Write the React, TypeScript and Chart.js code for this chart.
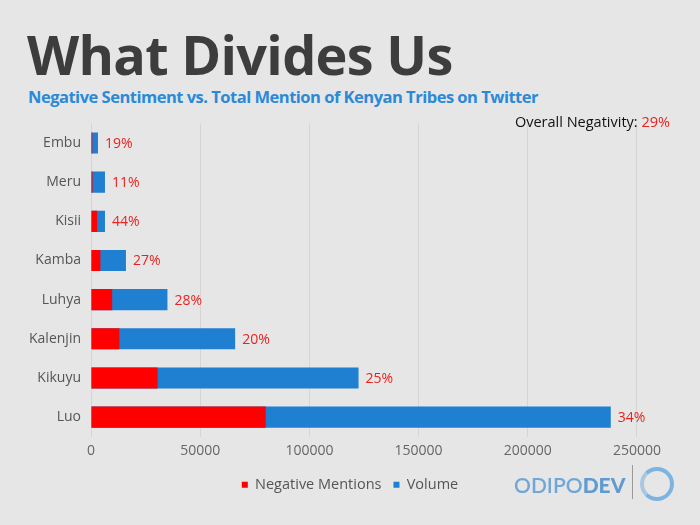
import React, { useEffect, useRef } from "react";
import { Chart, registerables } from "chart.js";

Chart.register(...registerables);

const tribes = ["Embu", "Meru", "Kisii", "Kamba", "Luhya", "Kalenjin", "Kikuyu", "Luo"];
const negativeMentions = [600, 700, 2800, 4300, 9700, 13000, 30500, 80000];
const totalVolume = [3200, 6400, 6400, 16000, 35000, 66000, 122500, 238000];
const negativityLabels = ["19%", "11%", "44%", "27%", "28%", "20%", "25%", "34%"];
const xTicks = [0, 50000, 100000, 150000, 200000, 250000];
const overallNegativity = "29%";

const BG = "#e7e6e6";
const RED = "#ff0000";
const BLUE = "#1f7fd1";
const FONT = "'Open Sans', 'Noto Sans', sans-serif";

const labelPlugin = {
  id: "pctLabels",
  afterDatasetsDraw(chart: any) {
    const meta = chart.getDatasetMeta(1);
    const ctx = chart.ctx;
    ctx.save();
    ctx.font = `14px ${FONT}`;
    ctx.fillStyle = "#e8231f";
    ctx.textBaseline = "middle";
    ctx.textAlign = "left";
    meta.data.forEach((el: any, i: number) => {
      ctx.fillText(negativityLabels[i], el.x + 7, el.y + 1);
    });
    ctx.restore();
  },
};

export default function App() {
  const ref = useRef<HTMLCanvasElement>(null);
  useEffect(() => {
    document.body.style.margin = "0";
    const chart = new Chart(ref.current!, {
      type: "bar",
      data: {
        labels: tribes,
        datasets: [
          {
            label: "Negative Mentions",
            data: negativeMentions,
            backgroundColor: RED,
            barPercentage: 0.54,
            categoryPercentage: 1,
          },
          {
            label: "Volume",
            data: totalVolume,
            backgroundColor: BLUE,
            barPercentage: 0.54,
            categoryPercentage: 1,
          },
        ],
      },
      options: {
        indexAxis: "y",
        animation: false,
        responsive: false,
        layout: { padding: { top: 2, right: 0, left: 0, bottom: 8 } },
        scales: {
          x: {
            min: 0,
            max: 278850,
            afterBuildTicks: (s: any) => {
              s.ticks = xTicks.map((v) => ({ value: v }));
            },
            grid: { color: "#d6d5d5", drawTicks: false },
            border: { display: false },
            ticks: {
              color: "#666",
              font: { family: FONT, size: 14 },
              padding: 6,
              callback: (v: any) => String(v),
            },
          },
          y: {
            stacked: true,
            grid: { display: false, drawTicks: false },
            border: { display: false },
            afterFit: (s: any) => {
              s.width = 91;
            },
            ticks: {
              color: "#555",
              font: { family: FONT, size: 14 },
              padding: 10,
            },
          },
        },
        plugins: {
          legend: {
            position: "bottom",
            labels: {
              boxWidth: 6,
              boxHeight: 6,
              color: "#555",
              font: { family: FONT, size: 14.5 },
              padding: 12,
            },
          },
          tooltip: { enabled: false },
        },
      },
      plugins: [labelPlugin],
    });
    return () => chart.destroy();
  }, []);

  return (
    <div
      style={{
        position: "absolute",
        left: 0,
        top: 0,
        width: 700,
        height: 525,
        background: BG,
        overflow: "hidden",
        fontFamily: FONT,
      }}
    >
      <div
        style={{
          position: "absolute",
          left: 27,
          top: 16,
          fontSize: 54,
          fontWeight: 700,
          color: "#3d3d3d",
          lineHeight: "76px",
          letterSpacing: -0.7,
          whiteSpace: "nowrap",
        }}
      >
        What Divides Us
      </div>
      <div
        style={{
          position: "absolute",
          left: 28,
          top: 85,
          fontSize: 16.5,
          fontWeight: 700,
          color: "#2a8ad8",
          lineHeight: "24px",
          letterSpacing: -0.5,
          whiteSpace: "nowrap",
        }}
      >
        Negative Sentiment vs. Total Mention of Kenyan Tribes on Twitter
      </div>
      <canvas
        ref={ref}
        width={700}
        height={405}
        style={{ position: "absolute", left: 0, top: 105, width: 700, height: 405 }}
      />
      <div
        style={{
          position: "absolute",
          right: 30,
          top: 112,
          fontSize: 14.5,
          color: "#111",
          lineHeight: "20px",
          whiteSpace: "nowrap",
        }}
      >
        Overall Negativity: <span style={{ color: "#e8231f" }}>{overallNegativity}</span>
      </div>
      <div
        style={{
          position: "absolute",
          left: 514,
          top: 472,
          fontSize: 21,
          color: "#6fa8d8",
          lineHeight: "26px",
          whiteSpace: "nowrap",
          fontFamily: "'Lato', sans-serif",
        }}
      >
        <span style={{ fontWeight: 600 }}>ODIPO</span>
        <span style={{ fontWeight: 900, color: "#5f9bd0" }}>DEV</span>
      </div>
      <div
        style={{ position: "absolute", left: 632, top: 465, width: 1, height: 34, background: "#9a9a9a" }}
      />
      <div
        style={{
          position: "absolute",
          left: 640,
          top: 467,
          width: 26,
          height: 26,
          borderRadius: "50%",
          border: "4px solid #7db3e0",
          borderLeftColor: "#a9c7e0",
        }}
      />
    </div>
  );
}
